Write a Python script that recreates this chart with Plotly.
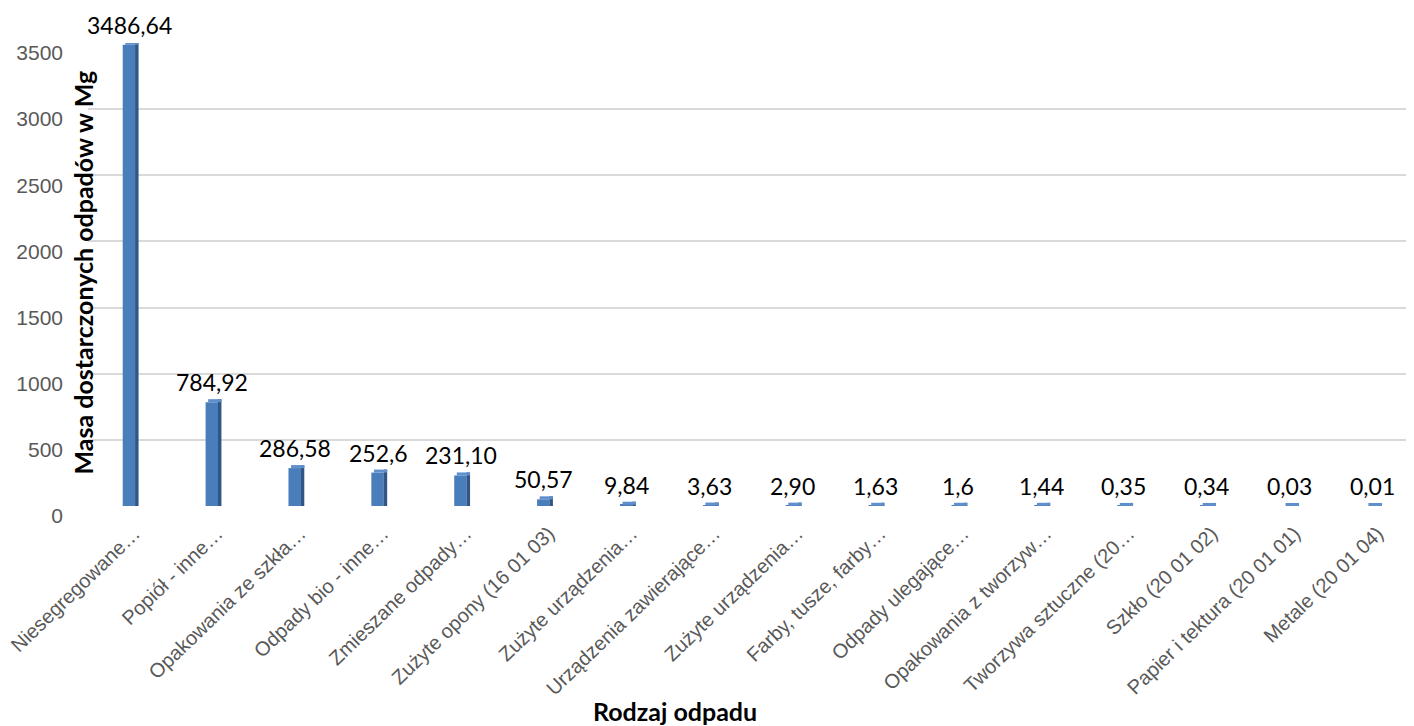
import plotly.graph_objects as go

categories = [
    "Niesegregowane…", "Popiół - inne…", "Opakowania ze szkła…", "Odpady bio - inne…",
    "Zmieszane odpady…", "Zużyte opony (16 01 03)", "Zużyte urządzenia…", "Urządzenia zawierające…",
    "Zużyte urządzenia…", "Farby, tusze, farby…", "Odpady ulegające…", "Opakowania z tworzyw…",
    "Tworzywa sztuczne (20…", "Szkło (20 01 02)", "Papier i tektura (20 01 01)", "Metale (20 01 04)",
]
values = [3486.64, 784.92, 286.58, 252.6, 231.10, 50.57, 9.84, 3.63, 2.90, 1.63, 1.6, 1.44,
          0.35, 0.34, 0.03, 0.01]
value_labels = ["3486,64", "784,92", "286,58", "252,6", "231,10", "50,57", "9,84", "3,63", "2,90",
                "1,63", "1,6", "1,44", "0,35", "0,34", "0,03", "0,01"]
y_ticks = [0, 500, 1000, 1500, 2000, 2500, 3000, 3500]

idx = list(range(len(categories)))

# page body has an 8px margin, so the figure is sized to fit the 1414x726 window
W, H = 1406, 718
M_L, M_R, M_T, M_B = 80, 0, 35, 220
plot_h = H - M_T - M_B
px = 3500 / plot_h  # data units per pixel
top_d = 3 * px

fig = go.Figure()
# front face
fig.add_trace(go.Bar(x=idx, y=values, width=0.15, offset=-0.081,
                     marker=dict(color="#4a7ebb", line=dict(width=0)), hoverinfo="skip"))
# side face
fig.add_trace(go.Bar(x=idx, y=[v + top_d for v in values], width=0.042, offset=0.068,
                     marker=dict(color="#2f5686", line=dict(width=0)), hoverinfo="skip"))
# top face
fig.add_trace(go.Bar(x=idx, y=[top_d] * len(values), base=values, width=0.16, offset=-0.05,
                     marker=dict(color="#5f8fcc", line=dict(width=0)), hoverinfo="skip"))

annotations = []
for i, v, t in zip(idx, values, value_labels):
    annotations.append(dict(x=i, y=v, text=t, showarrow=False, xanchor="center", yanchor="middle",
                            yshift=20, font=dict(family="Lato", size=23, color="#000000")))
annotations.append(dict(xref="paper", yref="paper", x=0, y=0.5, xshift=-6, yshift=2,
                        text="Masa dostarczonych odpadów w Mg",
                        textangle=-90, showarrow=False, xanchor="center", yanchor="middle",
                        font=dict(family="Lato", size=25, color="#000000", weight="bold")))
annotations.append(dict(xref="paper", yref="paper", x=0.5, y=0, yshift=-205, xshift=-76, text="Rodzaj odpadu",
                        showarrow=False, xanchor="center", yanchor="middle",
                        font=dict(family="Lato", size=25, color="#000000", weight="bold")))

fig.update_layout(
    width=W, height=H, margin=dict(l=M_L, r=M_R, t=M_T, b=M_B, autoexpand=False),
    barmode="overlay", showlegend=False,
    plot_bgcolor="#ffffff", paper_bgcolor="#ffffff",
    annotations=annotations,
    xaxis=dict(range=[-0.5, len(categories) - 0.5], tickmode="array", tickvals=idx, ticktext=categories,
               tickangle=-44, showgrid=False, zeroline=False, showline=False, ticks="",
               ticklabelstandoff=11, ticklabelshift=5, ticklabeloverflow="allow", automargin=False,
               tickfont=dict(family="Arial, Liberation Sans, sans-serif", size=20, color="#595959")),
    yaxis=dict(range=[0, 3500], tickmode="array", tickvals=y_ticks, showgrid=True,
               gridcolor="#d9d9d9", gridwidth=2, zeroline=False, showline=False, ticks="",
               ticklabelstandoff=24, ticklabelshift=10, automargin=False,
               tickfont=dict(family="Arial, Liberation Sans, sans-serif", size=21, color="#595959")),
)

fig.write_html("out.html")
